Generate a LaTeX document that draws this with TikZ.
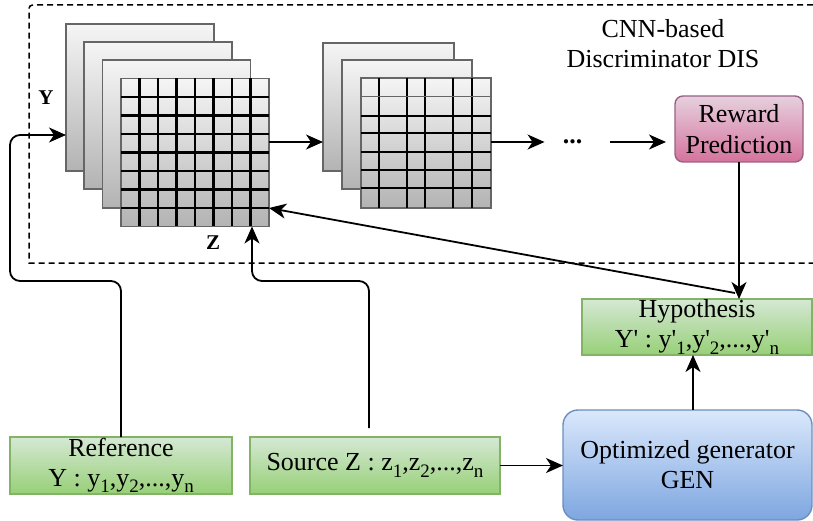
\documentclass[tikz,border=0pt]{standalone}
\usepackage{fontspec}
\setmainfont{Liberation Serif}
\usetikzlibrary{arrows.meta,calc}
\definecolor{grnT}{HTML}{D5E8D4}
\definecolor{grnB}{HTML}{97D077}
\definecolor{grnD}{HTML}{82B366}
\definecolor{rewT}{HTML}{E6D0DE}
\definecolor{rewB}{HTML}{D5739D}
\definecolor{rewD}{HTML}{996185}
\definecolor{genT}{HTML}{DAE8FC}
\definecolor{genB}{HTML}{7EA6E0}
\definecolor{genD}{HTML}{6C8EBF}
\definecolor{layT}{HTML}{F5F5F5}
\definecolor{layB}{HTML}{B3B3B3}
\definecolor{layD}{HTML}{666666}
\newcommand\mainfs{\fontsize{26}{30}\selectfont}
\newcommand\sbx[1]{\raisebox{-0.25em}{\fontsize{19}{19}\selectfont #1}}
\begin{document}
\begin{tikzpicture}[x=1pt,y=-1pt,
  layer/.style={draw=layD, line width=1.4pt, top color=layT, bottom color=layB, inner sep=0pt, outer sep=0pt},
  gridln/.style={line width=2.2pt, black},
  grnbox/.style={draw=grnD, line width=1.4pt, top color=grnT, bottom color=grnB, inner sep=0pt, outer sep=0pt, align=center, font=\mainfs},
  rewbox/.style={draw=rewD, line width=1.4pt, top color=rewT, bottom color=rewB, inner sep=0pt, outer sep=0pt, align=center, font=\fontsize{26}{31}\selectfont, rounded corners=8pt},
  genbox/.style={draw=genD, line width=1.4pt, top color=genT, bottom color=genB, inner sep=0pt, outer sep=0pt, align=center, font=\mainfs, rounded corners=15pt},
  conn/.style={line width=1.8pt, rounded corners=10pt},
  arr/.style={conn, -{Stealth[length=17pt,width=15pt,inset=5pt]}},
  dbox/.style={line width=1.5pt, dash pattern=on 6pt off 4pt},
  lbl/.style={font=\fontsize{21}{24}\selectfont\bfseries}
]
\useasboundingbox (0,0) rectangle (813,521);

% dashed discriminator frame
\draw[dbox] (813,5) -- (37,5) .. controls (29,5) .. (29,13) -- (29,263) -- (813,263);

% first feature-map stack
\node[layer, minimum width=148pt, minimum height=147pt] (l1a) at (140,97.5) {};
\node[layer, minimum width=148pt, minimum height=147pt] (l1b) at (158,115.5) {};
\node[layer, minimum width=148pt, minimum height=148pt] (l1c) at (176.5,134) {};
\node[layer, minimum width=148pt, minimum height=148pt] (g1) at (195,152.5) {};
\foreach \i in {1,...,7} {
  \draw[gridln] ($(g1.north west)+(18.5*\i,0)$) -- ($(g1.south west)+(18.5*\i,0)$);
  \draw[gridln] ($(g1.north west)+(0,18.5*\i)$) -- ($(g1.north east)+(0,18.5*\i)$);
}

% second feature-map stack
\node[layer, minimum width=131pt, minimum height=128pt] (l2a) at (388.5,107) {};
\node[layer, minimum width=130pt, minimum height=129pt] (l2b) at (407,124.5) {};
\node[layer, minimum width=130pt, minimum height=130pt] (g2) at (426,143) {};
\foreach \c in {18,46,64,92,111} {
  \draw[gridln] ($(g2.north west)+(\c,0)$) -- ($(g2.south west)+(\c,0)$);
}
\draw[line width=1pt, layD] ($(g2.north west)+(0,19)$) -- ($(g2.north east)+(0,19)$);
\foreach \r in {38,55,74,92,110} {
  \draw[gridln] ($(g2.north west)+(0,\r)$) -- ($(g2.north east)+(0,\r)$);
}

% labels
\node[lbl] (ylab) at (46,98) {Y};
\node[lbl] (zlab) at (213,243) {Z};
\node[font=\mainfs, align=center] (cnn) at (663,44) {CNN-based\\Discriminator DIS};
\node[font=\mainfs\bfseries, anchor=base, inner sep=0pt] (dots) at (572.5,144) {...};

% boxes
\node[rewbox, minimum width=128pt, minimum height=66pt] (rew) at (739,129) {Reward\\Prediction};
\node[grnbox, minimum width=230pt, minimum height=56pt] (hyp) at (697,327)
  {Hypothesis\\Y\textquotesingle{} : y\textquotesingle\sbx{1},y\textquotesingle\sbx{2},...,y\textquotesingle\sbx{n}};
\node[grnbox, minimum width=222pt, minimum height=57pt] (ref) at (121,465.5)
  {Reference\\Y : y\sbx{1},y\sbx{2},...,y\sbx{n}};
\node[grnbox, minimum width=250pt, minimum height=57pt] (src) at (375,465.5)
  {Source Z : z\sbx{1},z\sbx{2},...,z\sbx{n}};
\node[genbox, minimum width=249pt, minimum height=110pt] (gen) at (687.5,465)
  {Optimized generator\\GEN};

% connectors
\draw[arr] (ref.north) -- (121,281) -- (10,281) -- (10,135) -- (l1a.west |- 0,135);
\draw[arr] ([xshift=-6pt,yshift=9pt]src.north) -- (369,281) -- (252,281) -- (g1.south -| 252,0);
\draw[arr] (g1.east |- 0,142) -- (l2a.west |- 0,142);
\draw[arr, shorten >=18pt] (g2.east |- 0,142) -- (dots.west |- 0,142);
\draw[arr, shorten <=28pt, shorten >=9pt] (dots.east |- 0,142) -- (rew.west |- 0,142);
\draw[arr] (rew.south) -- (rew.south |- hyp.north);
\draw[arr] ($(rew.south |- hyp.north)+(-4,-6)$) -- (g1.east |- 0,208);
\draw[arr] (gen.north -| 693,0) -- (hyp.south -| 693,0);
\draw[arr] (src.east) -- (src.east -| gen.west);
\end{tikzpicture}
\end{document}
